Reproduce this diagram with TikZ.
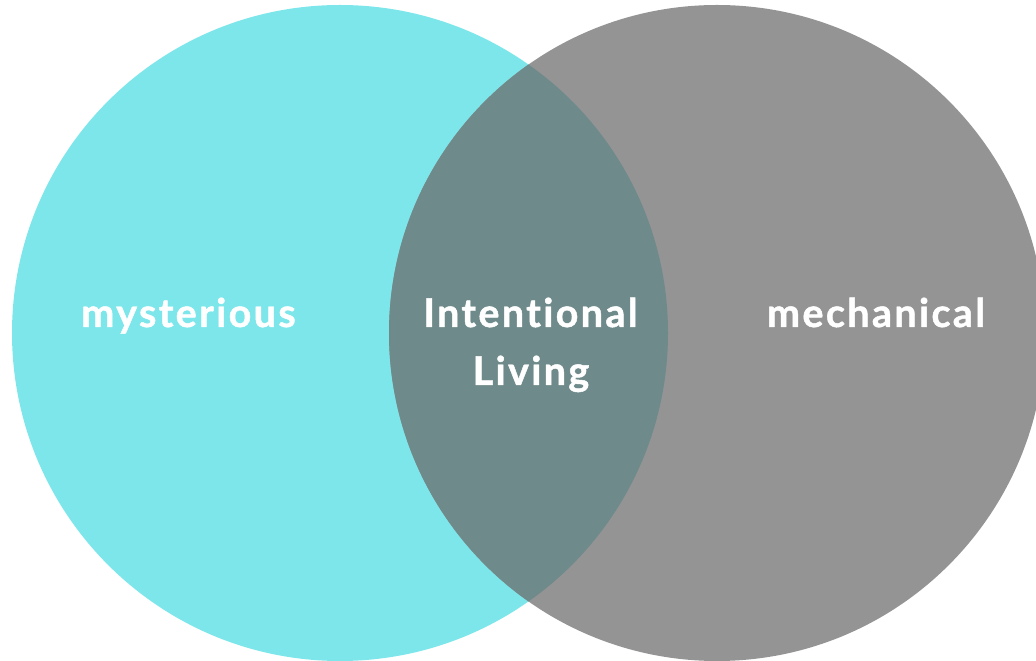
\documentclass[tikz,border=0pt]{standalone}
\usepackage{fontspec}
\setmainfont{Lato}[LetterSpace=6,Ligatures=NoCommon,BoldFeatures={FakeBold=1.2}]
\definecolor{cyanc}{HTML}{7DE6EB}
\definecolor{grayc}{HTML}{949494}
\definecolor{overc}{HTML}{6F8A8A}
\begin{document}
\begin{tikzpicture}[x=1pt,y=1pt,
  lbl/.style={text=white,font=\bfseries\fontsize{39.5}{58}\selectfont,align=center,inner sep=0pt,anchor=base}]
\useasboundingbox (0,0) rectangle (1036,661);
\clip (0,0) rectangle (1036,661);
\fill[cyanc] (340,328) circle (328);
\fill[grayc] (717,328) circle (328);
\begin{scope}
\clip (340,328) circle (328);
\fill[overc] (717,328) circle (328);
\end{scope}
\node[lbl] (m) at (188.5,334) {mysterious};
\node[lbl] (i) at (530.5,334) {Intentional};
\node[lbl] (l) at (531,276) {Living};
\node[lbl] (c) at (876,334) {mechanical};
\end{tikzpicture}
\end{document}
